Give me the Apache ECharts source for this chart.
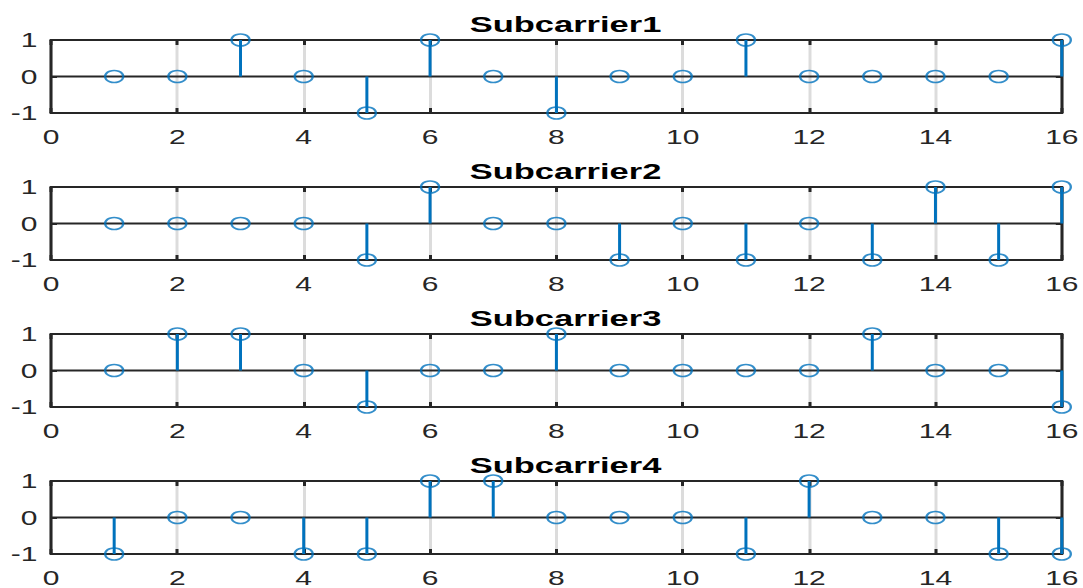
<!DOCTYPE html>
<html>
<head>
<meta charset="utf-8">
<script src="https://cdn.jsdelivr.net/npm/echarts@6/dist/echarts.min.js"></script>
<style>
  html, body { margin: 0; padding: 0; background: #fff; overflow: hidden; width: 1083px; height: 588px; }
  #chart { width: 722px; height: 588px; transform: scaleX(1.5); transform-origin: 0 0; }
</style>
</head>
<body>
<div id="chart"></div>
<script>
const xValues = [1, 2, 3, 4, 5, 6, 7, 8, 9, 10, 11, 12, 13, 14, 15, 16];
const subcarrier1 = [0, 0, 1, 0, -1, 1, 0, -1, 0, 0, 1, 0, 0, 0, 0, 1];
const subcarrier2 = [0, 0, 0, 0, -1, 1, 0, 0, -1, 0, -1, 0, -1, 1, -1, 1];
const subcarrier3 = [0, 1, 1, 0, -1, 0, 0, 1, 0, 0, 0, 0, 1, 0, 0, -1];
const subcarrier4 = [-1, 0, 0, -1, -1, 1, 1, 0, 0, 0, -1, 1, 0, 0, -1, -1];
const titles = ['Subcarrier1', 'Subcarrier2', 'Subcarrier3', 'Subcarrier4'];
const xTickLabels = [0, 2, 4, 6, 8, 10, 12, 14, 16];
const yTickLabels = [-1, 0, 1];

const allSeries = [subcarrier1, subcarrier2, subcarrier3, subcarrier4];
const gridTops = [40, 187, 334, 481];
const plotH = 73;
const leftPx = 34, rightPx = 12;
const blue = '#0072BD';
const axisCol = '#262626';
const font = 'Liberation Sans, Arial, sans-serif';

const chart = echarts.init(document.getElementById('chart'), null, { renderer: 'svg' });

const grid = [], xAxis = [], yAxis = [], series = [], title = [];
const plotCenter = leftPx + (722 - leftPx - rightPx) / 2;

allSeries.forEach((vals, i) => {
  grid.push({ left: leftPx, right: rightPx, top: gridTops[i], height: plotH, containLabel: false });
  title.push({
    text: titles[i], left: plotCenter, top: gridTops[i] - 33, textAlign: 'center',
    textStyle: { fontFamily: font, fontSize: 23, fontWeight: 'bold', color: '#000' }
  });
  const xMin = xTickLabels[0], xMax = xTickLabels[xTickLabels.length - 1];
  const xInt = xTickLabels[1] - xTickLabels[0];
  xAxis.push({
    gridIndex: i, type: 'value', min: xMin, max: xMax, interval: xInt, position: 'bottom',
    axisLine: { show: true, onZero: false, lineStyle: { color: axisCol, width: 2 } },
    axisTick: { show: true, inside: true, length: 5, lineStyle: { color: axisCol, width: 2 } },
    axisLabel: { show: true, margin: 14, fontFamily: font, fontSize: 20, color: axisCol },
    splitLine: { show: true, lineStyle: { color: '#dcdcdc', width: 2 } }
  });
  xAxis.push({
    gridIndex: i, type: 'value', min: xMin, max: xMax, interval: xInt, position: 'top',
    axisLine: { show: true, onZero: false, lineStyle: { color: axisCol, width: 2 } },
    axisTick: { show: true, inside: true, length: 5, lineStyle: { color: axisCol, width: 2 } },
    axisLabel: { show: false }, splitLine: { show: false }
  });
  yAxis.push({
    gridIndex: i, type: 'value', min: yTickLabels[0], max: yTickLabels[yTickLabels.length - 1], interval: 1, position: 'left',
    axisLine: { show: true, onZero: false, lineStyle: { color: axisCol, width: 2 } },
    axisTick: { show: true, inside: true, length: 4, lineStyle: { color: axisCol, width: 2 } },
    axisLabel: { show: true, margin: 9, fontFamily: font, fontSize: 20, color: axisCol },
    splitLine: { show: false }
  });
  yAxis.push({
    gridIndex: i, type: 'value', min: yTickLabels[0], max: yTickLabels[yTickLabels.length - 1], interval: 1, position: 'right',
    axisLine: { show: true, onZero: false, lineStyle: { color: axisCol, width: 2 } },
    axisTick: { show: true, inside: true, length: 4, lineStyle: { color: axisCol, width: 2 } },
    axisLabel: { show: false }, splitLine: { show: false }
  });
  const data = xValues.map((x, k) => [x, vals[k]]);
  series.push({
    type: 'line', xAxisIndex: 2 * i, yAxisIndex: 2 * i, data: [[xMin, 0], [xMax, 0]],
    symbol: 'none', silent: true, z: 3, animation: false,
    lineStyle: { color: axisCol, width: 2 }
  });
  series.push({
    type: 'custom', xAxisIndex: 2 * i, yAxisIndex: 2 * i, data: data, z: 4, animation: false, clip: false,
    renderItem: (params, api) => {
      const p0 = api.coord([api.value(0), 0]);
      const p1 = api.coord([api.value(0), api.value(1)]);
      return { type: 'line', shape: { x1: p0[0], y1: p0[1], x2: p1[0], y2: p1[1] },
               style: { stroke: blue, lineWidth: 2 } };
    }
  });
  series.push({
    type: 'scatter', xAxisIndex: 2 * i, yAxisIndex: 2 * i, data: data, z: 5, animation: false, clip: false,
    symbol: 'circle', symbolSize: 12,
    itemStyle: { color: 'rgba(0,0,0,0)', borderColor: blue, borderWidth: 1.6 }
  });
});

chart.setOption({ animation: false, backgroundColor: '#fff', title, grid, xAxis, yAxis, series });
</script>
</body>
</html>
